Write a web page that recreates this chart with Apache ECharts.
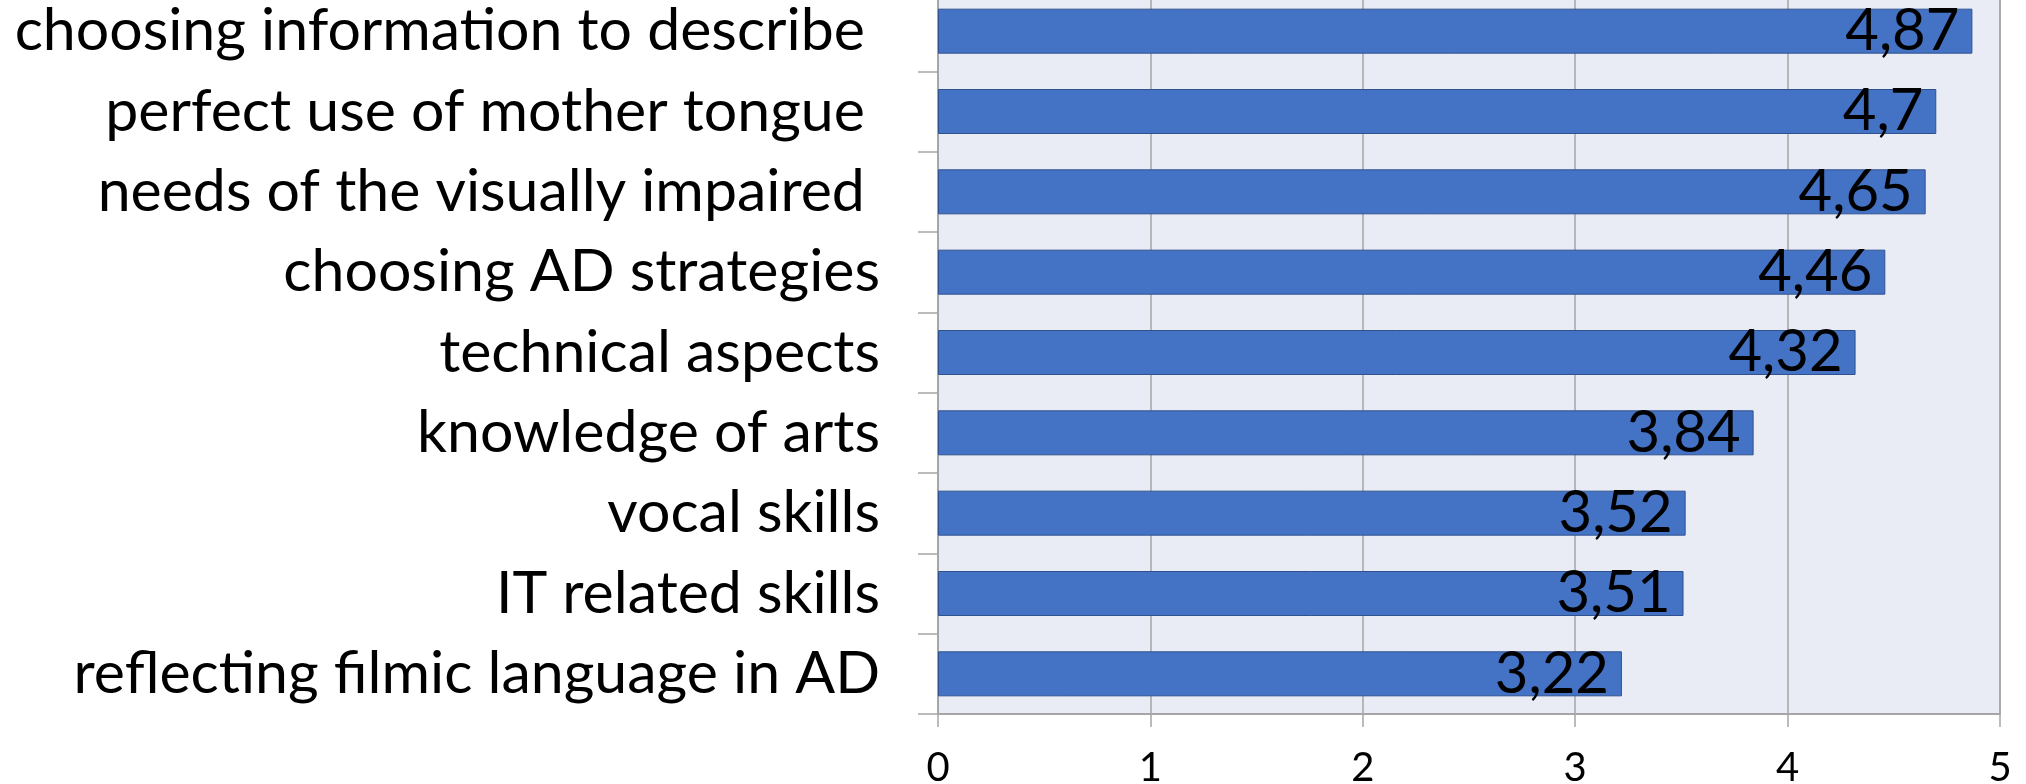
<!DOCTYPE html>
<html>
<head>
<meta charset="utf-8">
<script src="https://cdn.jsdelivr.net/npm/echarts@6/dist/echarts.min.js"></script>
<style>
  html, body { margin: 0; padding: 0; background: #fff; }
  #chart { width: 2026px; height: 784px; }
</style>
</head>
<body>
<div id="chart"></div>
<script>
// categories top to bottom
const categories = [
  'choosing information to describe ',
  'perfect use of mother tongue ',
  'needs of the visually impaired ',
  'choosing AD strategies',
  'technical aspects',
  'knowledge of arts',
  'vocal skills',
  'IT related skills',
  'reflecting filmic language in AD'
]
const values = [4.87, 4.7, 4.65, 4.46, 4.32, 3.84, 3.52, 3.51, 3.22]
const xTicks = [0, 1, 2, 3, 4, 5]

const chart = echarts.init(document.getElementById('chart'))
const gridColor = '#A6A6A6'
chart.setOption({
  animation: false,
  textStyle: { fontFamily: 'Lato' },
  grid: {
    left: 938,
    right: 26,
    bottom: 70,
    height: 723,
    outerBoundsMode: 'none',
    show: true,
    backgroundColor: '#E9EBF5',
    borderColor: gridColor,
    borderWidth: 1.5
  },
  xAxis: {
    type: 'value',
    min: xTicks[0],
    max: xTicks[xTicks.length - 1],
    interval: 1,
    axisLine: { show: true, lineStyle: { color: gridColor, width: 2 } },
    axisTick: { show: true, length: 13, lineStyle: { color: gridColor, width: 1.5 } },
    splitLine: { show: true, lineStyle: { color: gridColor, width: 1.5 } },
    axisLabel: { color: '#000', fontSize: 40, margin: 34, fontFamily: 'Lato' }
  },
  yAxis: {
    type: 'category',
    inverse: true,
    data: categories,
    axisLine: { show: true, lineStyle: { color: gridColor, width: 2 } },
    axisTick: { show: true, length: 20, lineStyle: { color: gridColor, width: 1.5 } },
    axisLabel: { color: '#000', fontSize: 59, margin: 58, fontFamily: 'Lato' }
  },
  series: [
    {
      type: 'bar',
      data: values,
      barWidth: 45,
      itemStyle: { color: '#4472C4', borderColor: '#2F528F', borderWidth: 1 },
      label: {
        show: true,
        position: 'insideRight',
        distance: 13,
        color: '#000',
        fontSize: 58,
        fontFamily: 'Lato',
        formatter: (p) => String(p.value).replace('.', ',')
      }
    }
  ]
})
</script>
</body>
</html>
